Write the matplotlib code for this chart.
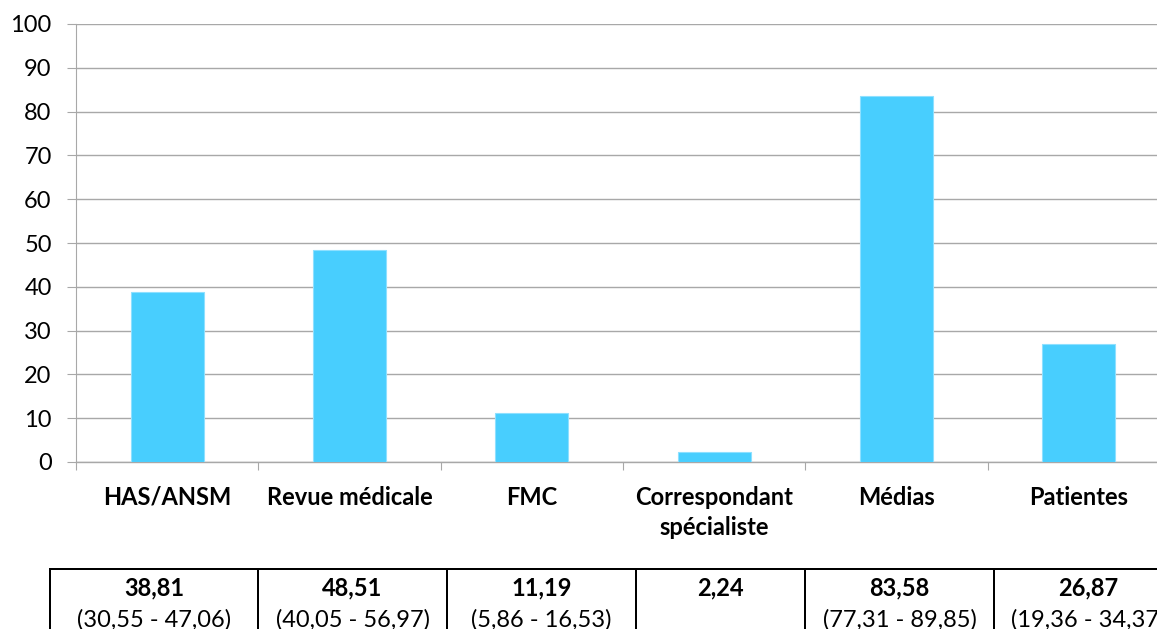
import matplotlib
matplotlib.use("Agg")
import matplotlib.pyplot as plt
from matplotlib.lines import Line2D
import numpy as np

categories = ["HAS/ANSM", "Revue médicale", "FMC", "Correspondant\nspécialiste", "Médias", "Patientes"]
values = [38.81, 48.51, 11.19, 2.24, 83.58, 26.87]
value_labels = ["38,81", "48,51", "11,19", "2,24", "83,58", "26,87"]
ci_labels = ["(30,55 - 47,06)", "(40,05 - 56,97)", "(5,86 - 16,53)", "", "(77,31 - 89,85)", "(19,36 - 34,37)"]
yticks = [0, 10, 20, 30, 40, 50, 60, 70, 80, 90, 100]

W, H = 1157, 629
plt.rcParams['font.family'] = ['Lato', 'DejaVu Sans']
FS = 17

fig = plt.figure(figsize=(W / 100, H / 100), dpi=100)
fig.patch.set_facecolor("white")

def fx(px):
    return px / W

def fy(py):
    return 1 - py / H

ax = fig.add_axes([fx(76), fy(462), fx(1170) - fx(76), fy(24) - fy(462)])
ax.set_facecolor("none")
x = np.arange(len(categories))
ax.bar(x, values, width=0.4, color="#48CEFE", edgecolor="#8EE0FF", linewidth=0.8, zorder=3)
ax.set_xlim(-0.5, len(categories) - 0.5)
ax.set_ylim(0, 100)
ax.set_yticks(yticks)
ax.set_yticklabels([str(v) for v in yticks], fontsize=FS)
ax.yaxis.grid(True, color="#A8A8A8", linewidth=1.0, zorder=0)
ax.set_axisbelow(True)
ax.tick_params(axis="y", direction="out", length=6.5, width=0.8, color="#A8A8A8", pad=11, labelcolor="black")

ax.set_xticks(x)
ax.set_xticklabels(categories, fontsize=FS, fontweight="bold", linespacing=1.38)
ax.set_xticks(np.arange(-0.5, len(categories)), minor=True)
ax.tick_params(axis="x", which="major", length=0, pad=17)
ax.tick_params(axis="x", which="minor", direction="out", length=5.8, width=0.8, color="#A8A8A8")

for s in ["top", "right"]:
    ax.spines[s].set_visible(False)
ax.spines["left"].set_color("#A8A8A8")
ax.spines["left"].set_linewidth(0.8)
ax.spines["bottom"].set_color("#A8A8A8")
ax.spines["bottom"].set_linewidth(1.0)

# table below the chart
col_edges = [50, 258, 447, 636, 805, 994, 1183]
top = 569
lw = 2.0
fig.add_artist(Line2D([fx(col_edges[0]), fx(col_edges[-1])], [fy(top), fy(top)], color="black", linewidth=lw * 0.72))
for e in col_edges:
    fig.add_artist(Line2D([fx(e), fx(e)], [fy(top), fy(H + 5)], color="black", linewidth=lw * 0.72))
for i in range(len(categories)):
    cx = fx((col_edges[i] + col_edges[i + 1]) / 2)
    fig.text(cx, fy(588), value_labels[i], ha="center", va="center", fontsize=FS, fontweight="bold")
    if ci_labels[i]:
        fig.text(cx, fy(620), ci_labels[i], ha="center", va="center", fontsize=FS)

fig.savefig("out.png", dpi=100, facecolor="white")
